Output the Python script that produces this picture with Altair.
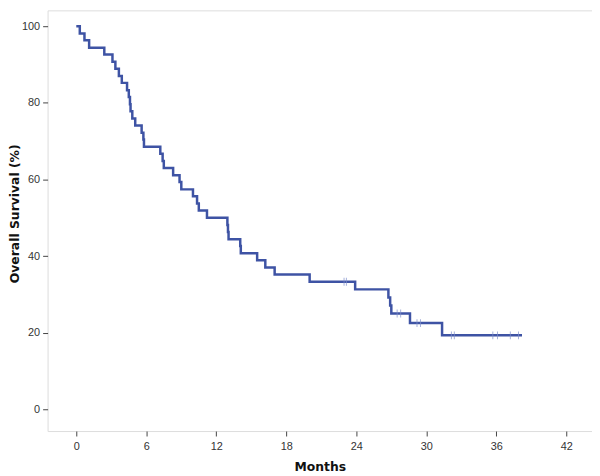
import altair as alt
import pandas as pd

# Kaplan-Meier step points (months, survival %)
step_time = [0, 0.3, 0.7, 1.1, 2.4, 3.1, 3.35, 3.65, 3.9, 4.35, 4.5, 4.6, 4.65, 4.8,
             5.05, 5.6, 5.75, 5.8, 7.2, 7.4, 7.5, 8.3, 8.85, 9.0, 10.0, 10.35, 10.5,
             11.2, 12.95, 13.0, 13.05, 14.05, 14.1, 15.5, 16.2, 17.0, 20.0, 23.9,
             26.75, 26.9, 27.0, 28.6, 31.35, 38.2]
step_surv = [100, 98.1, 96.3, 94.4, 92.6, 90.7, 88.9, 87.0, 85.2, 83.3, 81.5, 79.6,
             77.8, 75.9, 74.1, 72.2, 70.4, 68.5, 66.7, 64.8, 63.0, 61.1, 59.3, 57.4,
             55.6, 53.7, 51.9, 50.0, 48.1, 46.3, 44.4, 42.6, 40.7, 38.9, 37.0, 35.2,
             33.3, 31.3, 29.2, 27.1, 25.0, 22.5, 19.3, 19.3]

# censored observations
cens_time = [22.95, 23.15, 27.5, 27.8, 29.2, 29.5, 32.15, 32.4, 35.7, 36.1, 37.2, 37.9]
cens_surv = [33.3, 33.3, 25.0, 25.0, 22.5, 22.5, 19.3, 19.3, 19.3, 19.3, 19.3, 19.3]

x_ticks = [0, 6, 12, 18, 24, 30, 36, 42]
y_ticks = [0, 20, 40, 60, 80, 100]

steps = pd.DataFrame({"t": step_time, "s": step_surv})
cens = pd.DataFrame({"t": cens_time, "s": cens_surv})

xscale = alt.Scale(domain=[-2.46, 44.2], nice=False, zero=False)
yscale = alt.Scale(domain=[-5.68, 104.13], nice=False, zero=False)

xaxis = alt.Axis(values=x_ticks, title="Months", grid=False, domain=False,
                 tickColor="#444444", tickSize=5, tickWidth=1,
                 labelFont="Liberation Sans", labelFontSize=11, labelColor="#333333",
                 labelPadding=5,
                 titleFont="DejaVu Sans", titleFontSize=12.5, titleFontWeight="bold",
                 titleColor="#111111", titlePadding=9)
yaxis = alt.Axis(values=y_ticks, title="Overall Survival (%)", grid=False, domain=False,
                 tickColor="#444444", tickSize=5, tickWidth=1,
                 labelFont="Liberation Sans", labelFontSize=11, labelColor="#333333",
                 labelPadding=3,
                 titleFont="DejaVu Sans", titleFontSize=12.5, titleFontWeight="bold",
                 titleColor="#111111", titleX=-33, titleY=205,
                 titleBaseline="middle", titleAngle=270)

line = alt.Chart(steps).mark_line(interpolate="step-after", color="#3E53A4",
                                  strokeWidth=2.5).encode(
    x=alt.X("t:Q", scale=xscale, axis=xaxis),
    y=alt.Y("s:Q", scale=yscale, axis=yaxis),
)

ticks = alt.Chart(cens).mark_tick(orient="vertical", size=8, thickness=1,
                                  color="#7F8FCB").encode(
    x=alt.X("t:Q", scale=xscale),
    y=alt.Y("s:Q", scale=yscale),
)

chart = alt.layer(line, ticks).properties(
    width=550, height=425,
    autosize=alt.AutoSizeParams(type="none"),
    padding={"left": 40, "top": 0, "right": 0, "bottom": 40},
).configure_view(stroke="#6E6E6E", strokeWidth=1.6).configure(background="white")

chart.save("out.html", embed_options={"renderer": "svg", "actions": False})
